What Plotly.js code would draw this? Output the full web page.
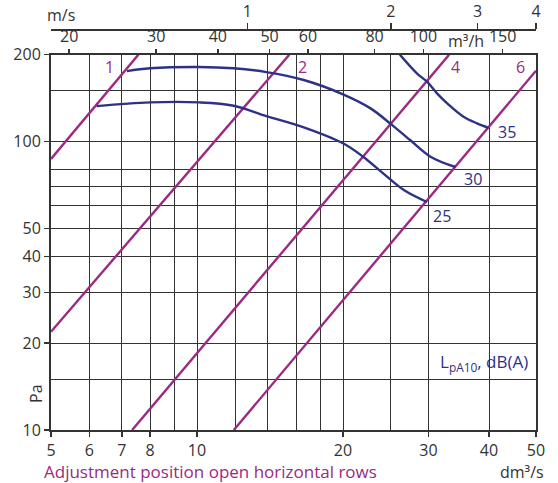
<!DOCTYPE html>
<html>
<head>
<meta charset="utf-8">
<script src="https://cdn.plot.ly/plotly-3.0.1.min.js"></script>
<style>html,body{margin:0;padding:0;background:#fff;}#chart{width:558px;height:483px;}</style>
</head>
<body>
<div id="chart"></div>
<script>
// ---- Data (flow q in dm3/s, pressure p in Pa) ----
const qTickVals = [5, 6, 7, 8, 10, 20, 30, 40, 50];
const pTickVals = [10, 20, 30, 40, 50, 100, 200];
const qGridVals = [6, 7, 8, 9, 10, 12, 14, 16, 18, 20, 25, 30, 40];
const pGridVals = [15, 20, 30, 40, 50, 60, 70, 80, 100, 150];

// top scales, expressed at their dm3/s position on the main scale
const m3hLabels = ['20', '30', '40', '50', '60', '80', '100', '150'];
const m3hAtQ = [5.45, 8.24, 11.04, 14.11, 16.93, 23.23, 29.3, 42.67];
const mpsLabels = ['1', '2', '3', '4'];
const mpsAtQ = [12.7, 25.1, 37.9, 49.99];

// adjustment position lines
const adjNames = ['1', '2', '4', '6'];
const adjQ = [[5, 7.57], [5, 15.5], [7.35, 33.1], [11.91, 50]];
const adjP = [[87.0, 200], [21.9, 200], [10, 200], [10, 176]];

// sound level curves LpA10 dB(A)
const soundNames = ['25', '30', '35'];
const sound25Q = [6.21, 8.0, 10.1, 11.9, 13.9, 16.6, 20.0, 22.0, 24.2, 26.7, 29.8];
const sound25P = [132.7, 136.7, 136.7, 133.1, 122.5, 112.0, 98.6, 88.6, 77.6, 67.9, 61.7];
const sound30Q = [7.17, 8.0, 10.1, 11.9, 13.9, 16.6, 20.0, 22.8, 25.0, 27.5, 30.3, 34.1];
const sound30P = [175.5, 179.4, 181.3, 179.4, 174.1, 163.4, 145.8, 130.3, 115.6, 101.2, 88.6, 81.6];
const sound35Q = [26.2, 28.4, 29.8, 31.25, 32.8, 35.45, 37.8, 39.9];
const sound35P = [200, 172.4, 161.2, 146.9, 135.6, 121.9, 115.6, 111.6];

// ---- Styling ----
const PURPLE = '#9b2a80';
const NAVY = '#2e3287';
const INK = '#333333';
const FONT = '"Open Sans", Roboto, "DejaVu Sans", sans-serif';

// pixel helpers for text placement (plot area 51..535.7 x, paper height 430)
const PL = 51, PW = 484.7, PH = 430;
const px = x => (x - PL) / PW;
const py = y => (PH - y) / PH;
const plotTop = 54.7;
const yDomTop = (PH - plotTop) / PH;

const xr = [Math.log10(5), Math.log10(50)];
const yr = [1, Math.log10(200)];

const traces = [];
// dummy traces to create overlay subplots
traces.push({x: [], y: [], xaxis: 'x2', yaxis: 'y', mode: 'lines', hoverinfo: 'skip', showlegend: false});
traces.push({x: [], y: [], xaxis: 'x3', yaxis: 'y', mode: 'lines', hoverinfo: 'skip', showlegend: false});
traces.push({x: [], y: [], xaxis: 'x4', yaxis: 'y2', mode: 'lines', hoverinfo: 'skip', showlegend: false});

adjNames.forEach((n, i) => {
  traces.push({
    x: adjQ[i], y: adjP[i], mode: 'lines', name: 'pos ' + n,
    line: {color: PURPLE, width: 2.4}, hoverinfo: 'skip', showlegend: false
  });
});
const sQ = [sound25Q, sound30Q, sound35Q];
const sP = [sound25P, sound30P, sound35P];
soundNames.forEach((n, i) => {
  traces.push({
    x: sQ[i], y: sP[i], mode: 'lines', name: n + ' dB(A)',
    line: {color: NAVY, width: 2.4, shape: 'spline', smoothing: 1}, hoverinfo: 'skip', showlegend: false
  });
});

function ann(text, x, y, color, extra, size) {
  return Object.assign({
    text: text, xref: 'paper', yref: 'paper', x: px(x), y: py(y),
    showarrow: false, font: {family: FONT, size: size || 16, color: color},
    xanchor: 'center', yanchor: 'middle'
  }, extra || {});
}

const annotations = [
  ann('1', 109, 67, PURPLE),
  ann('2', 302.5, 67.5, PURPLE),
  ann('4', 455, 67.5, PURPLE),
  ann('6', 520, 67.5, PURPLE),
  ann('35', 506.5, 132, NAVY),
  ann('30', 472.5, 179, NAVY),
  ann('25', 442, 216.5, NAVY),
  ann('L<sub>pA10</sub>, dB(A)', 530, 362, NAVY, {xanchor: 'right'}, 17),
  ann('dm³/s', 546, 472, INK, {xanchor: 'right'}),
  ann('Adjustment position open horizontal rows', 42, 471, PURPLE, {xanchor: 'left'}, 17),
  ann('Pa', 36, 393, INK, {textangle: -90}),
  ann('m/s', 61, 15, INK),
  ann('m³/h', 466, 41, INK)
];

const baseAxis = {
  type: 'log', showgrid: false, zeroline: false, tickmode: 'array',
  tickfont: {family: FONT, size: 16, color: INK}
};

const layout = {
  width: 558, height: 483,
  margin: {l: PL, r: 558 - PL - PW, t: 0, b: 483 - PH, pad: 0},
  paper_bgcolor: '#ffffff', plot_bgcolor: '#ffffff',
  font: {family: FONT, size: 16, color: INK},
  showlegend: false,
  xaxis: Object.assign({}, baseAxis, {
    range: xr, domain: [0, 1], anchor: 'y',
    tickvals: qTickVals, ticktext: qTickVals.map(String),
    ticks: 'outside', ticklen: 5, tickwidth: 1.5, tickcolor: INK,
    showline: true, linecolor: INK, linewidth: 2, mirror: true
  }),
  yaxis: Object.assign({}, baseAxis, {
    range: yr, domain: [0, yDomTop], anchor: 'x',
    tickvals: pTickVals, ticktext: pTickVals.map(String),
    ticks: 'outside', ticklen: 5, tickwidth: 1.5, tickcolor: INK,
    showline: true, linecolor: INK, linewidth: 2, mirror: true
  }),
  xaxis2: Object.assign({}, baseAxis, {
    range: xr, overlaying: 'x', side: 'top', anchor: 'y',
    tickvals: m3hAtQ, ticktext: m3hLabels,
    ticks: 'outside', ticklen: 5, tickwidth: 1.5, tickcolor: INK,
    showline: false
  }),
  xaxis3: Object.assign({}, baseAxis, {
    range: xr, overlaying: 'x', side: 'top', anchor: 'free', position: (PH - 29) / PH,
    tickvals: mpsAtQ, ticktext: mpsLabels,
    ticks: 'outside', ticklen: 6, tickwidth: 1.5, tickcolor: INK,
    showline: true, linecolor: INK, linewidth: 1.5
  }),
  xaxis4: Object.assign({}, baseAxis, {
    range: xr, overlaying: 'x', anchor: 'y2',
    tickvals: qGridVals, showticklabels: false, ticks: '',
    showgrid: true, gridcolor: '#333333', gridwidth: 1
  }),
  yaxis2: Object.assign({}, baseAxis, {
    range: yr, overlaying: 'y', domain: [0, yDomTop], anchor: 'x4',
    tickvals: pGridVals, showticklabels: false, ticks: '',
    showgrid: true, gridcolor: '#333333', gridwidth: 1
  }),
  annotations: annotations
};

Plotly.newPlot('chart', traces, layout, {staticPlot: true, displayModeBar: false});
</script>
</body>
</html>
